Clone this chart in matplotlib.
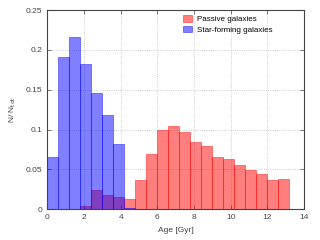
import numpy as np
import matplotlib
matplotlib.use('Agg')
import matplotlib.pyplot as plt

# bin edges of the age histogram (Gyr), 0.6 Gyr wide
edges = np.round(np.arange(0, 13.2 + 0.01, 0.6), 2)

# normalised counts per bin
passive = [0, 0, 0, 0.0037, 0.0236, 0.0174, 0.016, 0.0124, 0.0364, 0.0698,
           0.099, 0.104, 0.097, 0.0845, 0.080, 0.065, 0.0625, 0.056,
           0.0495, 0.0437, 0.0366, 0.0375]
starforming = [0.0653, 0.1916, 0.2158, 0.1827, 0.1458, 0.118, 0.0823, 0.001,
               0, 0, 0, 0, 0, 0, 0, 0, 0, 0, 0, 0, 0, 0]

plt.rcParams['font.family'] = 'Liberation Sans'
fig = plt.figure(figsize=(3.2, 2.4), dpi=100)
ax = fig.add_axes([0.148, 0.128, 0.802, 0.83])

centers = edges[:-1]
ax.hist(centers, bins=edges, weights=passive, color='red', alpha=0.5,
        edgecolor='red', linewidth=0.6, label='Passive galaxies', zorder=2)
ax.hist(centers, bins=edges, weights=starforming, color='blue', alpha=0.5,
        edgecolor='blue', linewidth=0.6, label='Star-forming galaxies', zorder=2)

ax.set_xlim(0, 14)
ax.set_ylim(0, 0.25)
ax.set_xticks(np.arange(0, 15, 2))
ax.set_yticks([0, 0.05, 0.1, 0.15, 0.2, 0.25])
ax.set_yticklabels(['0', '0.05', '0.1', '0.15', '0.2', '0.25'])
ax.grid(True, linestyle=':', color='#c0c0c0', linewidth=0.6, zorder=0)
ax.set_axisbelow(True)
ax.tick_params(direction='in', top=True, right=True, labelsize=6,
               length=3, width=0.5, colors='#444444', labelcolor='#444444')
for s in ax.spines.values():
    s.set_color('#444444')
    s.set_linewidth(0.8)

ax.set_xlabel('Age [Gyr]', fontsize=6, color='#444444', labelpad=4)
ax.set_ylabel(r'N/ N$_{\mathrm{tot}}$', fontsize=6, color='#444444', labelpad=6)

ax.legend(loc='upper right', bbox_to_anchor=(0.905, 1.01), frameon=False,
          fontsize=5.8, handlelength=1.1, handleheight=0.8,
          handletextpad=0.6, labelspacing=0.35)

fig.savefig('out.png', dpi=100)
